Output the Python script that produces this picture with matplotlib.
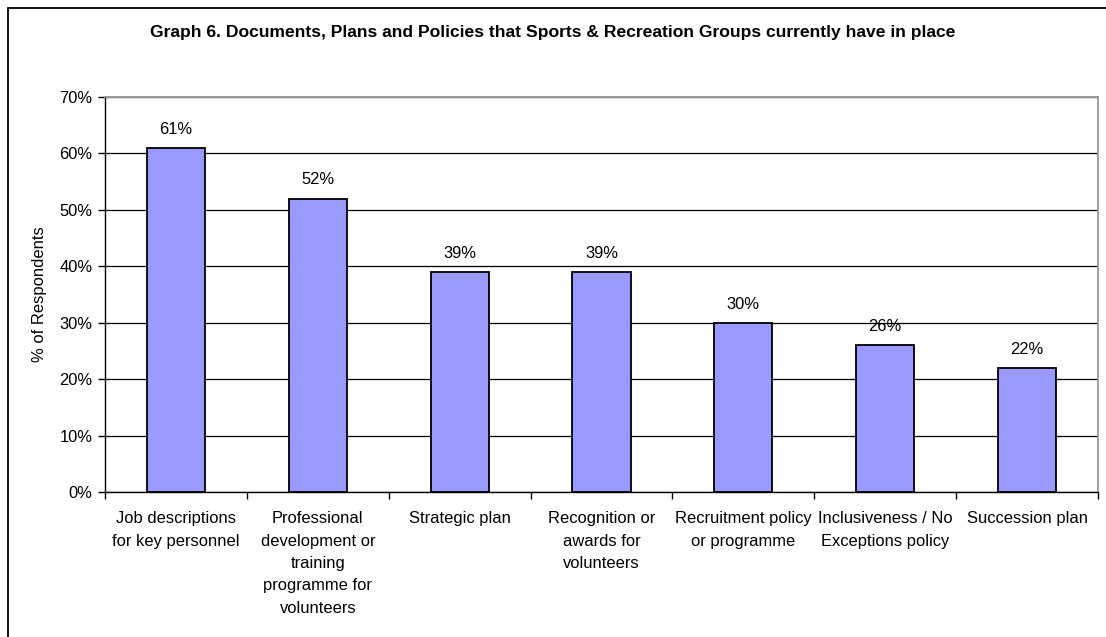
import matplotlib.pyplot as plt
import matplotlib.ticker as mtick
from matplotlib.patches import Rectangle

categories = [
    "Job descriptions\nfor key personnel",
    "Professional\ndevelopment or\ntraining\nprogramme for\nvolunteers",
    "Strategic plan",
    "Recognition or\nawards for\nvolunteers",
    "Recruitment policy\nor programme",
    "Inclusiveness / No\nExceptions policy",
    "Succession plan",
]
percent = [61, 52, 39, 39, 30, 26, 22]

title = "Graph 6. Documents, Plans and Policies that Sports & Recreation Groups currently have in place"

plt.rcParams['font.family'] = ['Liberation Sans', 'DejaVu Sans']
FS = 11.9

W, H = 1106, 637
fig = plt.figure(figsize=(W / 100, H / 100), dpi=100)

# chart frame, partly outside the canvas on the right and bottom
fig.patches.append(Rectangle((8 / W, -0.05), 1.2, 1 - 8 / H + 0.05,
                             transform=fig.transFigure, fill=False,
                             edgecolor='black', linewidth=1.3))

ax = fig.add_axes([105 / W, 1 - 492 / H, (1098 - 105) / W, (492 - 97) / H])

x = list(range(len(categories)))
bars = ax.bar(x, percent, width=0.41, color='#9999FF', edgecolor='black',
              linewidth=1.3, zorder=3)

for xi, v in zip(x, percent):
    ax.annotate(f"{v}%", (xi, v), xytext=(0, 8), textcoords='offset points',
                ha='center', va='bottom', fontsize=FS)

ax.set_xlim(-0.5, len(categories) - 0.5)
ax.set_ylim(0, 70)
ax.yaxis.set_major_locator(mtick.MultipleLocator(10))
ax.yaxis.set_major_formatter(mtick.FuncFormatter(lambda v, p: f"{v:.0f}%"))
ax.grid(axis='y', color='black', linewidth=0.9, zorder=0)

# category ticks sit on the boundaries between bars
ax.set_xticks([i - 0.5 for i in range(len(categories) + 1)])
ax.set_xticklabels([])
ax.set_xticks(x, minor=True)
ax.set_xticklabels(categories, minor=True, fontsize=FS, linespacing=1.61,
                   va='top')
ax.tick_params(axis='x', which='minor', length=0, pad=14)
ax.tick_params(axis='x', which='major', length=5, direction='out', width=1)
ax.tick_params(axis='y', length=5, direction='out', width=1, labelsize=FS,
               pad=4)

for side in ('top', 'right'):
    ax.spines[side].set_color('#999999')
    ax.spines[side].set_linewidth(1.3)
for side in ('left', 'bottom'):
    ax.spines[side].set_color('black')
    ax.spines[side].set_linewidth(1.0)

ax.set_ylabel("% of Respondents", fontsize=FS, labelpad=9)

fig.text(0.5, 1 - 32 / H, title, ha='center', va='center',
         fontsize=12.6, fontweight='bold')

fig.savefig("out.png", dpi=100, facecolor='white')
